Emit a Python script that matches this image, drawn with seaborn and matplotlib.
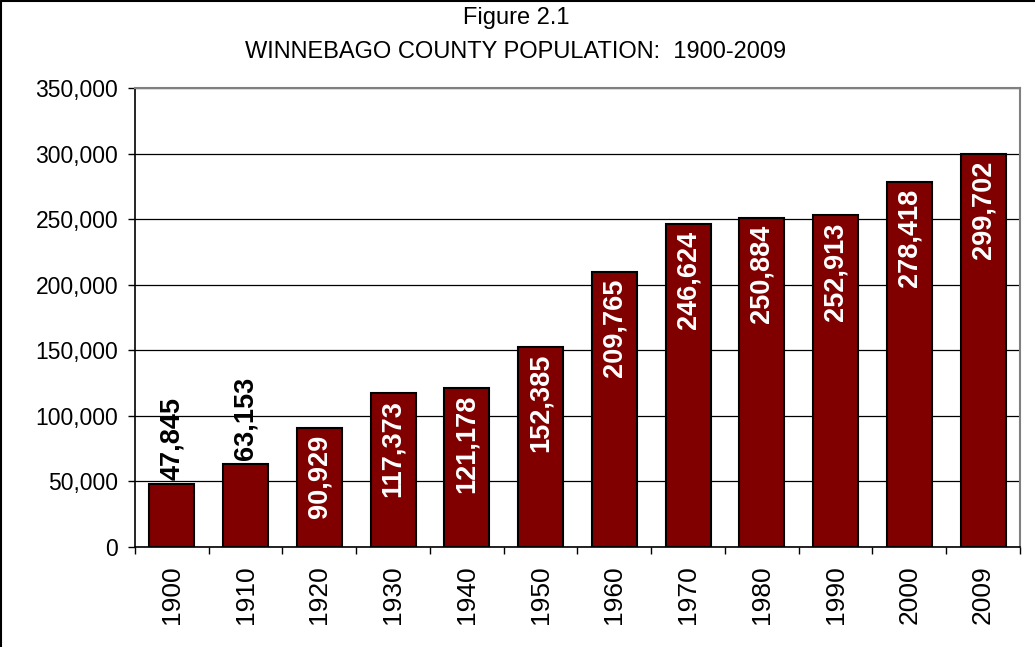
import matplotlib
matplotlib.use("Agg")
import matplotlib.pyplot as plt
import seaborn as sns
import pandas as pd
from matplotlib.lines import Line2D

# Data
years = ['1900', '1910', '1920', '1930', '1940', '1950',
         '1960', '1970', '1980', '1990', '2000', '2009']
population = [47845, 63153, 90929, 117373, 121178, 152385,
              209765, 246624, 250884, 252913, 278418, 299702]
y_ticks = [0, 50000, 100000, 150000, 200000, 250000, 300000, 350000]

df = pd.DataFrame({'Year': years, 'Population': population})

sns.set_theme(style='white')
plt.rcParams['font.family'] = ['Liberation Sans', 'DejaVu Sans']
plt.rcParams['text.color'] = 'black'

fig = plt.figure(figsize=(10.35, 6.47), dpi=100)
ax = fig.add_axes([0.1304, 0.1546, 0.855, 0.7094])

sns.barplot(data=df, x='Year', y='Population', color='#800000',
            edgecolor='black', linewidth=1.5, width=0.61, saturation=1, ax=ax)

ax.set_ylim(0, 350000)
ax.set_xlim(-0.5, len(years) - 0.5)
ax.set_yticks(y_ticks)
ax.set_yticklabels([f'{v:,}' for v in y_ticks], fontsize=16.5, color='black')
ax.yaxis.grid(True, color='black', linewidth=0.9)
ax.set_axisbelow(True)

# x labels centred on bars, tick marks between categories
ax.set_xticks(range(len(years)))
ax.set_xticklabels(years, rotation=90, fontsize=19, color='black')
ax.tick_params(axis='x', which='major', length=0, pad=13)
ax.set_xticks([i - 0.5 for i in range(len(years) + 1)], minor=True)
ax.tick_params(axis='x', which='minor', bottom=True, length=5, width=1, color='black', direction='out')
ax.tick_params(axis='y', left=True, length=5, width=1, color='black', direction='out', pad=7)
ax.set_xlabel('')
ax.set_ylabel('')

for side in ['left', 'bottom']:
    ax.spines[side].set_color('black')
    ax.spines[side].set_linewidth(1.2)
for side in ['top', 'right']:
    ax.spines[side].set_visible(True)
    ax.spines[side].set_color('#808080')
    ax.spines[side].set_linewidth(1.5)

# value labels
for i, v in enumerate(population):
    label = f'{v:,}'
    if v < 80000:
        ax.annotate(label, (i, v), xytext=(0, 3), textcoords='offset points',
                    rotation=90, ha='center', va='bottom', fontsize=19.5,
                    fontweight='bold', color='black')
    else:
        ax.annotate(label, (i, v), xytext=(0, -5), textcoords='offset points',
                    rotation=90, ha='center', va='top', fontsize=19.5,
                    fontweight='bold', color='white')

fig.text(0.4985, 0.972, 'Figure 2.1', ha='center', va='center', fontsize=17, color='black')
fig.text(0.4985, 0.919, 'WINNEBAGO COUNTY POPULATION:  1900-2009', ha='center',
         va='center', fontsize=17, color='black')

# outer frame (cropped on right/bottom in the original)
fig.add_artist(Line2D([0.001, 0.001], [0, 0.998], transform=fig.transFigure,
                      color='black', linewidth=1.5))
fig.add_artist(Line2D([0.001, 1], [0.998, 0.998], transform=fig.transFigure,
                      color='black', linewidth=1.5))

fig.savefig('out.png', dpi=100, facecolor='white')
